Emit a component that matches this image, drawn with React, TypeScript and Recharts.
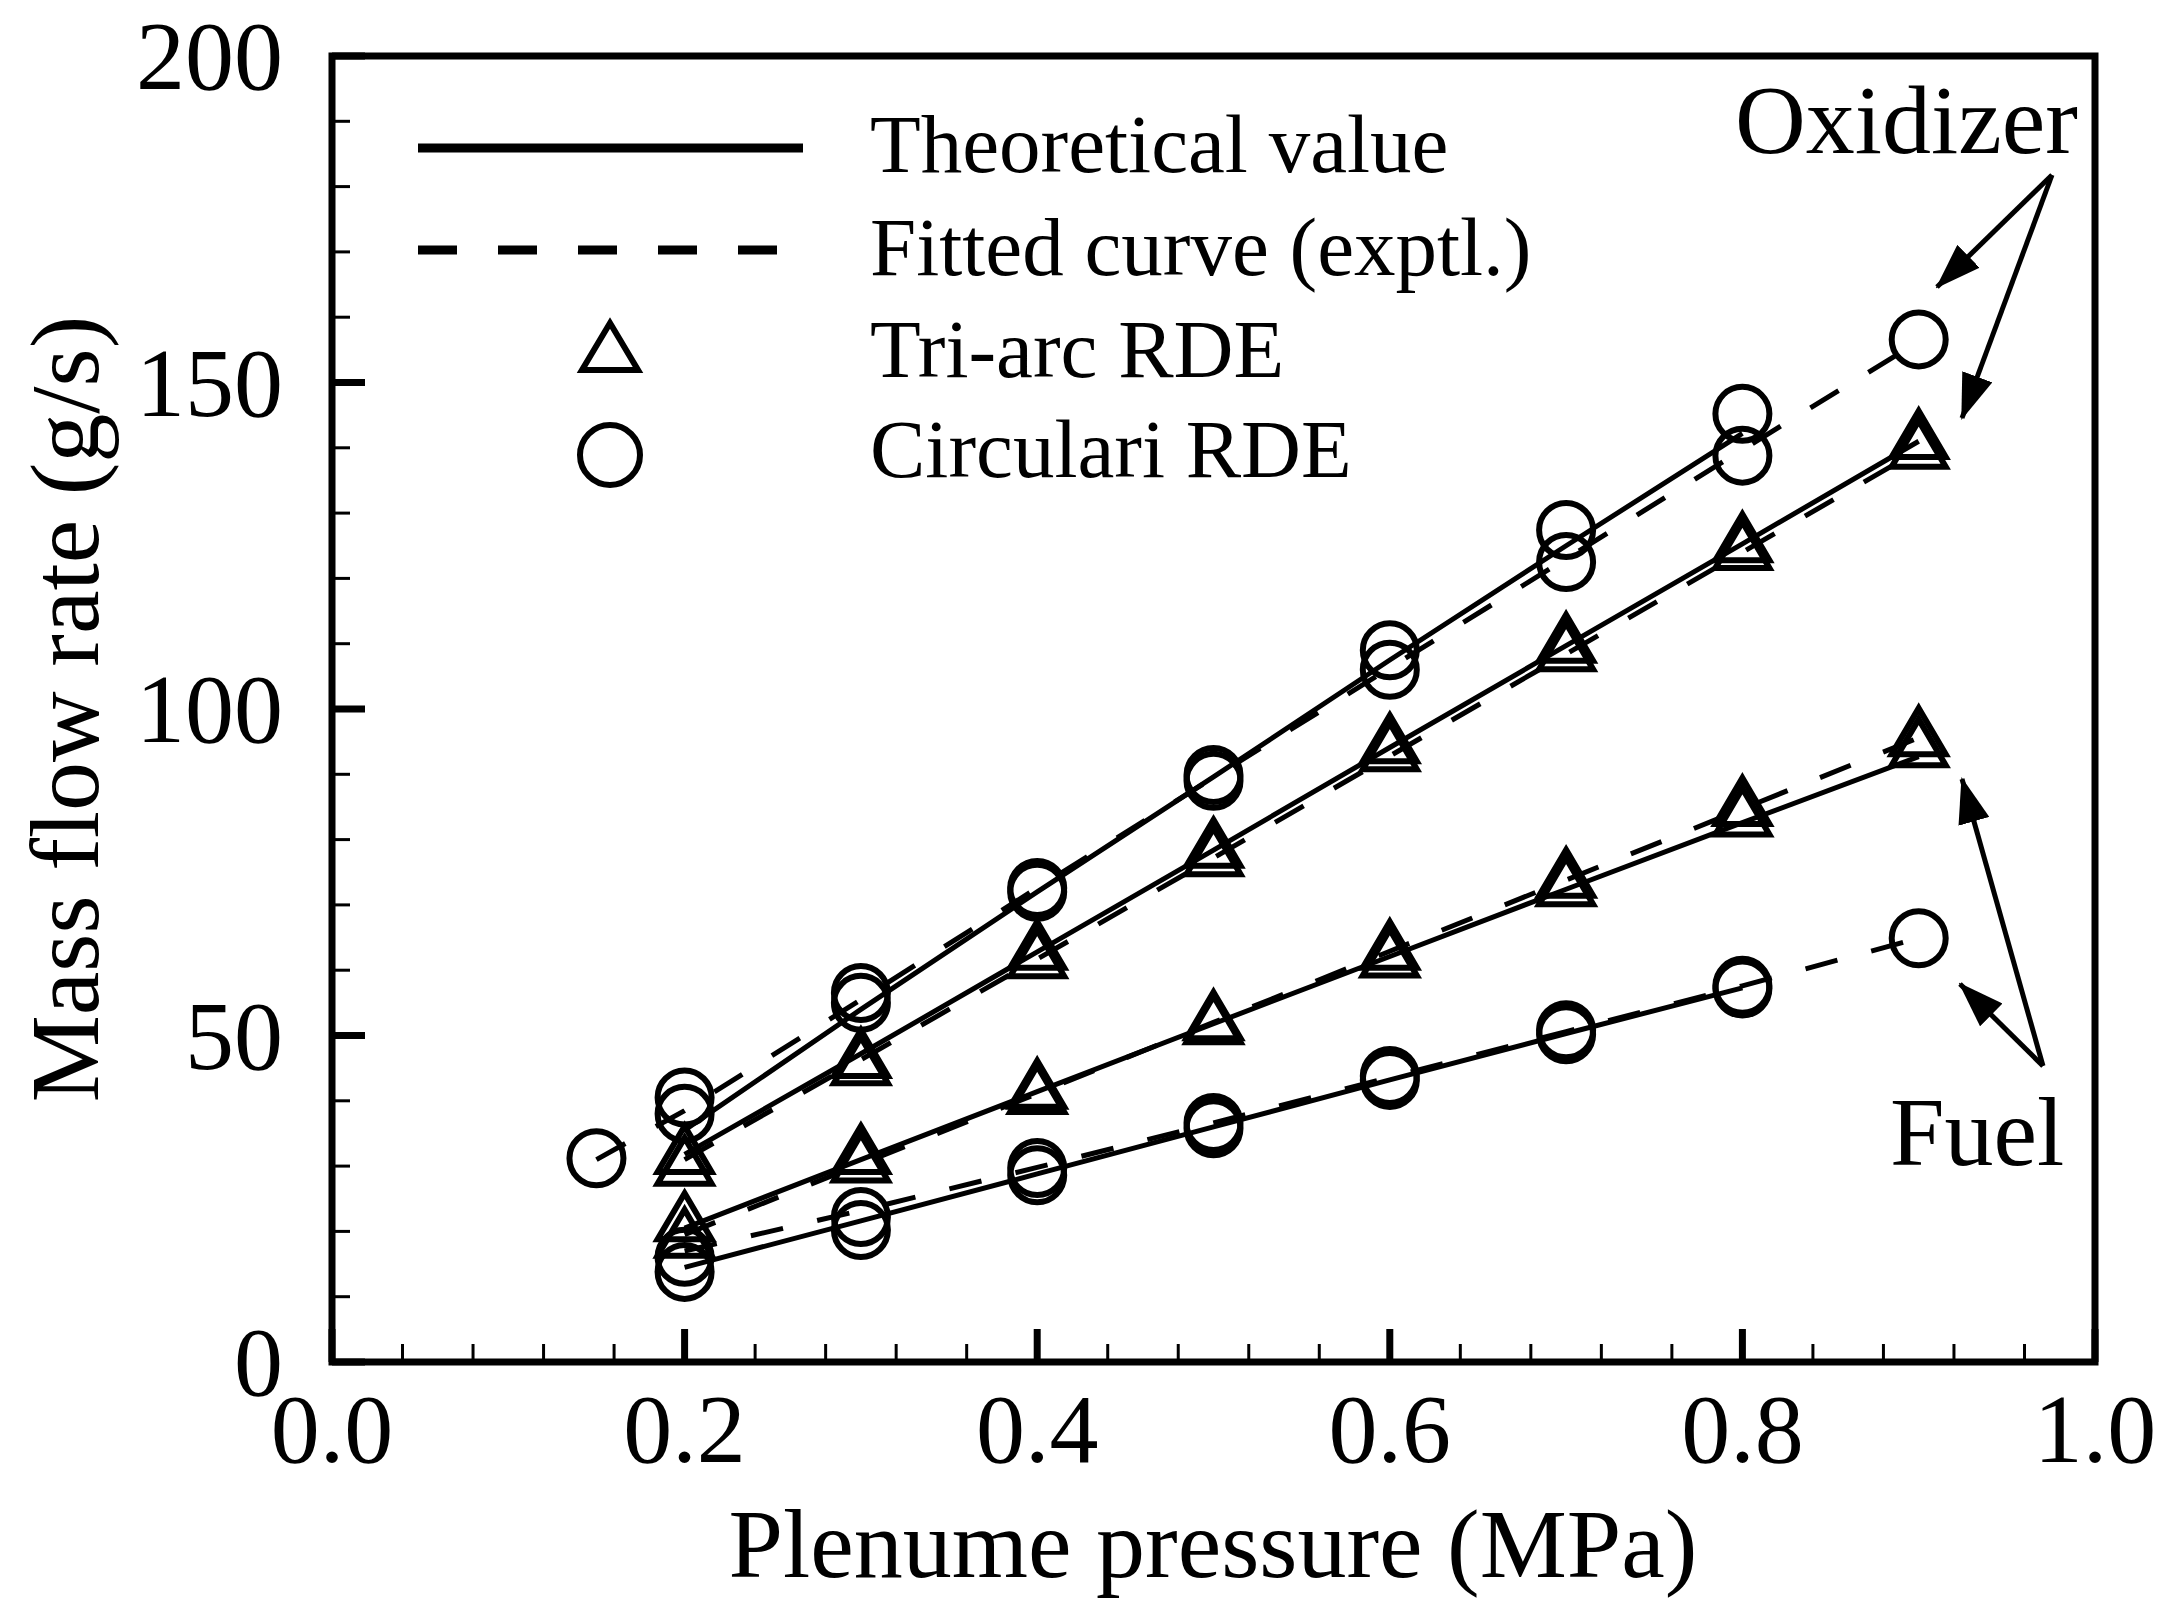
import { ComposedChart, Line, ReferenceArea, Scatter, XAxis, YAxis } from 'recharts';

const INK = '#000';
const SERIF = "'Liberation Serif', 'Times New Roman', serif";

// pressure grids (MPa)
const P_FULL = [0.2, 0.3, 0.4, 0.5, 0.6, 0.7, 0.8, 0.9];
const P_TO_08 = [0.2, 0.3, 0.4, 0.5, 0.6, 0.7, 0.8];
const P_FROM_015 = [0.15, 0.2, 0.3, 0.4, 0.5, 0.6, 0.7, 0.8, 0.9];

// circular RDE, oxidizer
const circOxTheory = [35.5, 54.0, 72.0, 89.6, 107.5, 125.0, 142.2];
const circOxFit = [31.0, 38.5, 55.5, 72.6, 89.5, 106.3, 123.0, 139.7, 156.3];
const circOxRunA = [31.2, 40.5, 56.5, 72.6, 89.9, 109.0, 127.4, 145.2, 156.6];
const circOxRunB = [38.0, 55.0, 72.0, 89.0, 106.0, 122.5, 138.8];

// tri-arc RDE, oxidizer
const triOxTheory = [31.8, 47.2, 62.8, 78.4, 94.1, 109.7, 125.3, 141.0];
const triOxFit = [31.0, 46.3, 61.7, 77.2, 92.8, 108.4, 124.0, 139.6];
const triOxRunA = [32.3, 47.0, 63.6, 79.2, 95.2, 110.6, 126.0, 141.8];
const triOxRunB = [30.5, 45.9, 62.3, 77.9, 94.0, 109.3, 124.8, 140.3];

// tri-arc RDE, fuel
const triFuelTheory = [20.5, 31.0, 41.4, 51.8, 62.1, 72.4, 82.6, 92.7];
const triFuelFit = [19.5, 30.3, 41.1, 52.0, 62.9, 73.8, 84.7, 95.6];
const triFuelRunA = [22.0, 32.3, 42.3, 52.8, 63.6, 74.6, 85.6, 96.3];
const triFuelRunB = [19.5, 31.0, 41.5, 52.2, 62.4, 73.3, 84.0, 94.6];

// circular RDE, fuel
const circFuelTheory = [14.5, 21.6, 28.8, 36.0, 43.2, 50.3, 57.3];
const circFuelFit = [17.0, 23.2, 29.8, 36.6, 43.6, 50.6, 57.6, 64.9];
const circFuelRunA = [16.1, 22.2, 29.7, 36.6, 43.8, 50.8, 57.6, 64.9];
const circFuelRunB = [13.8, 20.2, 28.6, 35.8, 43.2, 50.2, 57.2];

// axis ticks
const xMajorTicks = [0, 0.2, 0.4, 0.6, 0.8, 1.0];
const xMinorTicks = [0.04, 0.08, 0.12, 0.16, 0.24, 0.28, 0.32, 0.36, 0.44, 0.48, 0.52, 0.56, 0.64, 0.68, 0.72, 0.76, 0.84, 0.88, 0.92, 0.96];
const yMajorTicks = [0, 50, 100, 150, 200];
const yMinorTicks = [10, 20, 30, 40, 60, 70, 80, 90, 110, 120, 130, 140, 160, 170, 180, 190];

const legendLabels = ['Theoretical value', 'Fitted curve (exptl.)', 'Tri-arc RDE', 'Circulari RDE'];

const pts = (xs: number[], ys: number[]) => ys.map((y, i) => ({ x: xs[i], y }));

const lines = [
  { key: 'circOxTheory', data: pts(P_TO_08, circOxTheory), dashed: false },
  { key: 'circOxFit', data: pts(P_FROM_015, circOxFit), dashed: true },
  { key: 'triOxTheory', data: pts(P_FULL, triOxTheory), dashed: false },
  { key: 'triOxFit', data: pts(P_FULL, triOxFit), dashed: true },
  { key: 'triFuelTheory', data: pts(P_FULL, triFuelTheory), dashed: false },
  { key: 'triFuelFit', data: pts(P_FULL, triFuelFit), dashed: true },
  { key: 'circFuelTheory', data: pts(P_TO_08, circFuelTheory), dashed: false },
  { key: 'circFuelFit', data: pts(P_FULL, circFuelFit), dashed: true },
];

const markers = [
  { key: 'circOxA', data: pts(P_FROM_015, circOxRunA), kind: 'circle' },
  { key: 'circOxB', data: pts(P_TO_08, circOxRunB), kind: 'circle' },
  { key: 'triOxA', data: pts(P_FULL, triOxRunA), kind: 'tri' },
  { key: 'triOxB', data: pts(P_FULL, triOxRunB), kind: 'tri' },
  { key: 'triFuelA', data: pts(P_FULL, triFuelRunA), kind: 'tri' },
  { key: 'triFuelB', data: pts(P_FULL, triFuelRunB), kind: 'tri' },
  { key: 'circFuelA', data: pts(P_FULL, circFuelRunA), kind: 'circle' },
  { key: 'circFuelB', data: pts(P_TO_08, circFuelRunB), kind: 'circle' },
];

function Tri({ cx, cy, half = 27, up = 25, down = 21 }: any) {
  return (
    <path
      d={`M${cx},${cy - up} L${cx + half},${cy + down} L${cx - half},${cy + down} Z`}
      fill="none"
      stroke={INK}
      strokeWidth={6}
      strokeLinejoin="miter"
    />
  );
}

function Ring({ cx, cy, r = 27 }: any) {
  return <circle cx={cx} cy={cy} r={r} fill="none" stroke={INK} strokeWidth={6} />;
}

function XTick({ x, y, payload }: any) {
  const major = xMajorTicks.includes(payload.value);
  return (
    <g>
      <line x1={x} x2={x} y1={y} y2={y - (major ? 33 : 18)} stroke={INK} strokeWidth={major ? 7 : 3} />
      {major && (
        <text x={x} y={y + 100} textAnchor="middle" fontFamily={SERIF} fontSize={98} fill={INK}>
          {payload.value.toFixed(1)}
        </text>
      )}
    </g>
  );
}

function YTick({ x, y, payload }: any) {
  const major = yMajorTicks.includes(payload.value);
  return (
    <g>
      <line x1={x} x2={x + (major ? 33 : 18)} y1={y} y2={y} stroke={INK} strokeWidth={major ? 7 : 3} />
      {major && (
        <text x={x - 49} y={y + 33} textAnchor="end" fontFamily={SERIF} fontSize={98} fill={INK}>
          {payload.value}
        </text>
      )}
    </g>
  );
}

function Overlay() {
  const textStyle = { fontFamily: SERIF, fill: INK };
  return (
    <svg
      width={2167}
      height={1615}
      style={{ position: 'absolute', left: 0, top: 0, pointerEvents: 'none' }}
    >
      <defs>
        <marker
          id="head"
          markerUnits="userSpaceOnUse"
          markerWidth={46}
          markerHeight={32}
          refX={44}
          refY={16}
          orient="auto"
        >
          <path d="M0,0 L46,16 L0,32 Z" fill={INK} />
        </marker>
      </defs>

      {/* axis titles */}
      <text x={1213} y={1577} textAnchor="middle" fontSize={98} style={textStyle}>
        Plenume pressure (MPa)
      </text>
      <text transform="translate(98,709) rotate(-90)" textAnchor="middle" fontSize={98} style={textStyle}>
        Mass flow rate (g/s)
      </text>

      {/* legend */}
      <line x1={418} x2={803} y1={148} y2={148} stroke={INK} strokeWidth={9} />
      <line x1={418} x2={778} y1={250} y2={250} stroke={INK} strokeWidth={9} strokeDasharray="39 41" />
      <Tri cx={610} cy={348} half={28} up={25} down={22} />
      <Ring cx={610} cy={455} r={30} />
      {legendLabels.map((label, i) => (
        <text key={label} x={870} y={[172, 275, 377, 477][i]} fontSize={83} style={textStyle}>
          {label}
        </text>
      ))}

      {/* annotations */}
      <text x={1735} y={153} fontSize={98} style={textStyle}>
        Oxidizer
      </text>
      <line x1={2052} y1={175} x2={1937} y2={287} stroke={INK} strokeWidth={5} markerEnd="url(#head)" />
      <line x1={2052} y1={175} x2={1962} y2={418} stroke={INK} strokeWidth={5} markerEnd="url(#head)" />

      <text x={1890} y={1165} fontSize={98} style={textStyle}>
        Fuel
      </text>
      <line x1={2043} y1={1066} x2={1962} y2={779} stroke={INK} strokeWidth={5} markerEnd="url(#head)" />
      <line x1={2043} y1={1066} x2={1960} y2={984} stroke={INK} strokeWidth={5} markerEnd="url(#head)" />
    </svg>
  );
}

export default function App() {
  return (
    <div style={{ position: 'absolute', left: 0, top: 0, width: 2167, height: 1615, background: '#fff' }}>
      <ComposedChart width={2167} height={1615} margin={{ top: 56, right: 72, bottom: 0, left: 0 }}>
        <XAxis
          type="number"
          dataKey="x"
          domain={[0, 1]}
          ticks={[...xMajorTicks, ...xMinorTicks].sort((a, b) => a - b)}
          interval={0}
          height={253}
          tickSize={0}
          tickMargin={0}
          axisLine={false}
          tickLine={false}
          tick={(props: any) => <XTick {...props} />}
          allowDataOverflow
        />
        <YAxis
          type="number"
          dataKey="y"
          domain={[0, 200]}
          ticks={[...yMajorTicks, ...yMinorTicks].sort((a, b) => a - b)}
          interval={0}
          width={332}
          tickSize={0}
          tickMargin={0}
          axisLine={false}
          tickLine={false}
          tick={(props: any) => <YTick {...props} />}
          allowDataOverflow
        />
        <ReferenceArea x1={0} x2={1} y1={0} y2={200} fill="none" stroke={INK} strokeWidth={7} ifOverflow="visible" />
        {lines.map((s) => (
          <Line
            key={s.key}
            data={s.data}
            dataKey="y"
            type="linear"
            stroke={INK}
            strokeWidth={5}
            strokeDasharray={s.dashed ? '33 35' : undefined}
            dot={false}
            activeDot={false}
            legendType="none"
            isAnimationActive={false}
          />
        ))}
        {markers.map((m) => (
          <Scatter
            key={m.key}
            data={m.data}
            dataKey="y"
            legendType="none"
            isAnimationActive={false}
            shape={(p: any) => (m.kind === 'tri' ? <Tri cx={p.cx} cy={p.cy} /> : <Ring cx={p.cx} cy={p.cy} />)}
          />
        ))}
      </ComposedChart>
      <Overlay />
    </div>
  );
}
